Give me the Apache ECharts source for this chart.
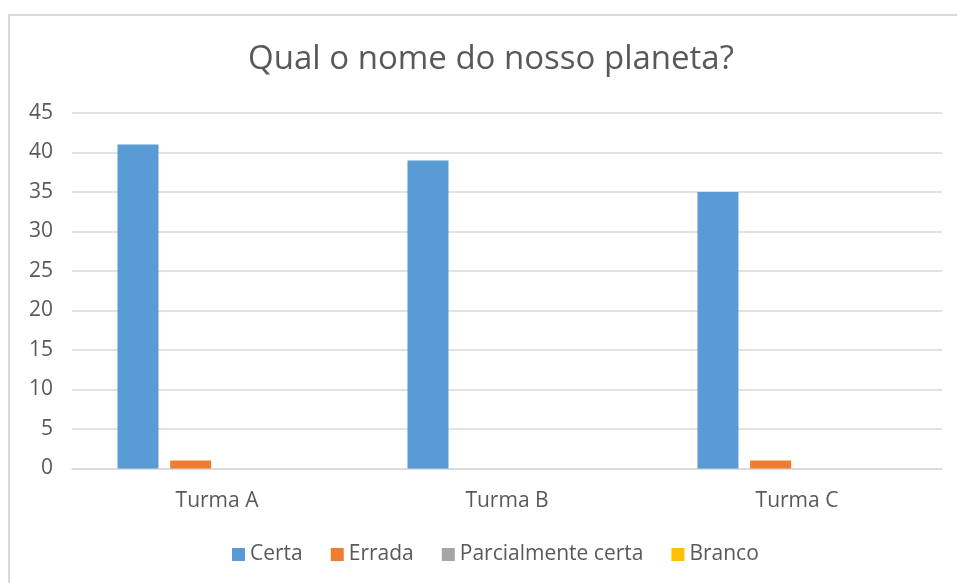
<!DOCTYPE html>
<html>
<head>
<meta charset="utf-8">
<script src="https://cdn.jsdelivr.net/npm/echarts@6/dist/echarts.min.js"></script>
<style>
  html, body { margin: 0; padding: 0; background: #fff; overflow: hidden; }
  #frame {
    position: absolute; left: 8px; top: 14px; width: 1000px; height: 1000px;
    border: 2px solid #d9d9d9; box-sizing: border-box;
  }
  #chart { position: absolute; left: 0; top: 0; width: 957px; height: 583px; }
</style>
</head>
<body>
<div id="frame"></div>
<div id="chart"></div>
<script>
// dados do gráfico
const categories = ["Turma A", "Turma B", "Turma C"];
const certa = [41, 39, 35];
const errada = [1, 0, 1];
const parcial = [0, 0, 0];
const branco = [0, 0, 0];
const seriesNames = ["Certa", "Errada", "Parcialmente certa", "Branco"];
const colors = ["#5b9bd5", "#ed7d31", "#a5a5a5", "#ffc000"];

const font = "'Open Sans', 'Noto Sans', sans-serif";
const myChart = echarts.init(document.getElementById("chart"));

const bar = (name, data, color) => ({
  type: "bar",
  name: name,
  data: data,
  barWidth: 41,
  barGap: "28.5%",
  itemStyle: { color: color },
});

const option = {
  animation: false,
  title: {
    text: "Qual o nome do nosso planeta?",
    left: 491,
    textAlign: "center",
    top: 43,
    padding: 0,
    textStyle: { color: "#595959", fontSize: 33, fontWeight: "normal", fontFamily: font },
  },
  legend: {
    left: 232,
    top: 544,
    padding: 0,
    itemWidth: 13,
    itemHeight: 13,
    itemGap: 28,
    icon: "rect",
    data: seriesNames,
    textStyle: { color: "#595959", fontSize: 21, fontFamily: font },
  },
  grid: { left: 72, right: 15, top: 113, bottom: 114.5 },
  xAxis: {
    type: "category",
    data: categories,
    axisLine: { lineStyle: { color: "#d9d9d9", width: 1.5 } },
    axisTick: { show: false },
    axisLabel: { color: "#595959", fontSize: 21, margin: 22, fontFamily: font },
  },
  yAxis: {
    type: "value",
    min: 0,
    max: 45,
    interval: 5,
    axisLine: { show: false },
    axisTick: { show: false },
    splitLine: { lineStyle: { color: "#d9d9d9", width: 1.5 } },
    axisLabel: { color: "#595959", fontSize: 21, margin: 19, fontFamily: font },
  },
  series: [
    bar(seriesNames[0], certa, colors[0]),
    bar(seriesNames[1], errada, colors[1]),
    bar(seriesNames[2], parcial, colors[2]),
    bar(seriesNames[3], branco, colors[3]),
  ],
};
myChart.setOption(option);
</script>
</body>
</html>
